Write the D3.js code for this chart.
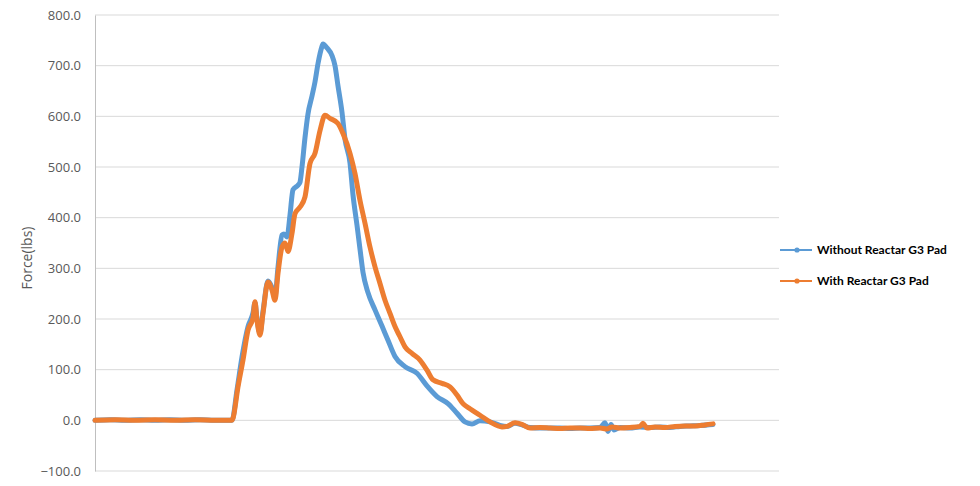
<!DOCTYPE html>
<html>
<head>
<meta charset="utf-8">
<script src="https://cdn.jsdelivr.net/npm/d3@7"></script>
<style>
  html, body { margin: 0; padding: 0; background: #fff; }
  svg { display: block; }
</style>
</head>
<body>
<svg id="chart" width="980" height="486"></svg>
<script>
// ---- data (sample index, force in lbs) ----
const seriesNames = ["Without Reactar G3 Pad", "With Reactar G3 Pad"];
const seriesColors = ["#5B9BD5", "#ED7D31"];
const yTicks = [-100, 0, 100, 200, 300, 400, 500, 600, 700, 800];
const sampleCount = 684;

const withoutPad = [
  [0,0],[15,1],[30,0],[45,1],[60,0],[75,1],[90,0],[105,1],[120,0],[137,0],
  [142,60],[147,125],[153,185],[158,212],[160,232],[162,200],[165,172],[168,215],
  [173,275],[177,262],[180,245],[183,302],[187,366],[189,368],[192,362],[195,405],
  [198,455],[203,464],[205,470],[207,500],[210,558],[213,605],[217,640],[220,668],
  [223,704],[227,738],[228,743],[232,735],[237,720],[240,700],[243,660],[247,608],
  [250,555],[255,508],[258,445],[262,385],[265,338],[268,292],[273,252],[280,218],
  [287,186],[293,158],[300,126],[310,106],[322,93],[332,68],[342,47],[353,33],
  [362,14],[370,-3],[377,-7],[385,-1],[395,-3],[405,-10],[412,-12],[420,-6],
  [427,-9],[435,-14],[445,-15],[455,-15],[465,-15],[475,-16],[485,-15],[495,-15],
  [505,-14],[510,-5],[513,-22],[516,-8],[519,-19],[525,-14],[535,-15],[545,-13],
  [555,-14],[565,-13],[575,-14],[585,-12],[595,-11],[605,-10],[618,-8]
];

const withPad = [
  [0,0],[20,1],[40,0],[60,1],[80,0],[100,1],[120,0],[137,0],
  [138,4],[143,66],[148,119],[153,178],[158,202],[160,234],[162,198],[165,168],
  [168,211],[173,273],[177,257],[180,237],[183,290],[187,342],[190,350],[193,333],
  [197,369],[200,408],[205,421],[210,441],[215,507],[220,527],[225,572],[230,602],
  [235,596],[243,586],[248,566],[255,527],[260,487],[265,434],[270,389],[275,342],
  [280,303],[285,270],[290,237],[295,211],[300,185],[305,165],[310,145],[317,132],
  [325,119],[332,99],[338,80],[347,73],[355,66],[362,50],[368,33],[375,23],
  [385,10],[395,-3],[407,-13],[412,-12],[420,-5],[427,-8],[435,-15],[445,-14],
  [455,-15],[465,-16],[475,-15],[485,-15],[495,-16],[505,-15],[512,-17],[517,-13],
  [525,-15],[535,-14],[545,-12],[548,-6],[552,-15],[560,-13],[570,-14],[580,-12],
  [590,-11],[600,-11],[610,-9],[618,-7]
];

// ---- layout ----
const svg = d3.select("#chart");
const plot = { left: 95, right: 779, top: 15, bottom: 471 };

const x = d3.scaleLinear().domain([0, sampleCount]).range([plot.left, plot.right]);
const y = d3.scaleLinear().domain([-100, 800]).range([plot.bottom, plot.top]);

// gridlines
svg.append("g")
  .selectAll("line")
  .data(yTicks)
  .join("line")
  .attr("x1", plot.left).attr("x2", plot.right)
  .attr("y1", d => y(d)).attr("y2", d => y(d))
  .attr("stroke", "#D9D9D9").attr("stroke-width", 1);

// y axis
const yAxis = d3.axisLeft(y).tickValues(yTicks).tickFormat(d3.format(".1f")).tickSize(0).tickPadding(14);
const yg = svg.append("g").attr("transform", `translate(${plot.left},0)`).call(yAxis);
yg.select(".domain").attr("stroke", "#BFBFBF").attr("stroke-width", 1);
yg.selectAll("text")
  .attr("font-family", "'Open Sans', sans-serif")
  .attr("font-size", 13)
  .attr("fill", "#595959");

// axis title
svg.append("text")
  .attr("transform", `translate(32,${(plot.top + plot.bottom) / 2 + 15}) rotate(-90)`)
  .attr("text-anchor", "middle")
  .attr("font-family", "'Open Sans', sans-serif")
  .attr("font-size", 14)
  .attr("fill", "#595959")
  .text("Force(lbs)");

// lines
const line = d3.line().x(d => x(d[0])).y(d => y(d[1])).curve(d3.curveMonotoneX);
[withoutPad, withPad].forEach((data, i) => {
  svg.append("path")
    .datum(data)
    .attr("d", line)
    .attr("fill", "none")
    .attr("stroke", seriesColors[i])
    .attr("stroke-width", 5)
    .attr("stroke-linejoin", "round")
    .attr("stroke-linecap", "round");
});

// legend
const legendY = [250, 281];
const lg = svg.append("g");
seriesNames.forEach((name, i) => {
  const g = lg.append("g").attr("transform", `translate(0,${legendY[i]})`);
  g.append("line").attr("x1", 780).attr("x2", 812).attr("y1", 0).attr("y2", 0)
    .attr("stroke", seriesColors[i]).attr("stroke-width", 2);
  g.append("circle").attr("cx", 797).attr("cy", 0).attr("r", 2.6).attr("fill", seriesColors[i]);
  g.append("text").attr("x", 817).attr("y", 0).attr("dy", "0.35em")
    .attr("font-family", "Lato, sans-serif").attr("font-weight", "bold")
    .attr("font-size", 12).attr("fill", "#000")
    .text(name);
});
</script>
</body>
</html>
